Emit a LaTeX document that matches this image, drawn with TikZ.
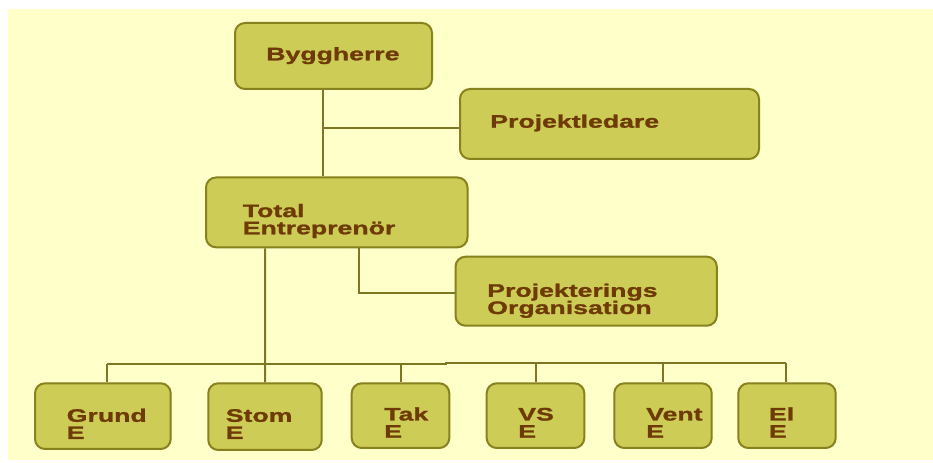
\documentclass[tikz,border=0pt]{standalone}
\usepackage{fontspec}
\newfontfamily\boxfont{Liberation Sans}[FakeStretch=1.47,FakeBold=1.2]
\usetikzlibrary{fit}
\definecolor{bgyellow}{RGB}{255,255,202}
\definecolor{boxfill}{RGB}{204,204,86}
\definecolor{boxedge}{RGB}{135,130,30}
\definecolor{linecol}{RGB}{125,118,35}
\definecolor{txtcol}{RGB}{110,58,5}
\tikzset{
  box/.style={draw=boxedge, fill=boxfill, line width=1.5pt, rounded corners=7.5pt, inner sep=0pt, rectangle},
  lbl/.style={anchor=base west, inner sep=0pt, align=left, text=txtcol,
    font={\boxfont\bfseries\fontsize{13.6}{12.9}\selectfont\lineskiplimit=-20pt}},
  conn/.style={draw=linecol, line width=1.5pt}
}
\begin{document}
\begin{tikzpicture}[x=0.75pt,y=-0.75pt]
\useasboundingbox (0,0) rectangle (933,463);
\fill[white] (0,0) rectangle (933,463);
\fill[bgyellow] (8,9) rectangle (933,460);
% boxes
\node[box, fit={(235,23) (432,89)}] (bygg) {};
\node[box, fit={(460,89) (759,159)}] (pl) {};
\node[box, fit={(206,177.5) (467.5,247.3)}] (te) {};
\node[box, fit={(455.5,256.7) (716.8,325.7)}] (po) {};
\node[box, fit={(35,383.3) (170.7,449)}] (grund) {};
\node[box, fit={(208.3,383.3) (321.7,450)}] (stom) {};
\node[box, fit={(351.7,383.3) (449.3,448)}] (tak) {};
\node[box, fit={(486.7,383.3) (584.3,448)}] (vs) {};
\node[box, fit={(614.3,383.3) (711.7,448)}] (vent) {};
\node[box, fit={(738.3,383.3) (835.7,448)}] (el) {};
% labels (base anchor = baseline of last line)
\node[lbl] (tbygg) at (266,60.3) {Byggherre};
\node[lbl] (tpl) at (490,127.7) {Projektledare};
\node[lbl] (tte) at (242.5,234.3) {Total\\Entreprenör};
\node[lbl] (tpo) at (487,314) {Projekterings\\Organisation};
\node[lbl] (tgrund) at (66.5,439) {Grund\\E};
\node[lbl] (tstom) at (225.5,439) {Stom\\E};
\node[lbl] (ttak) at (384,437.7) {Tak\\E};
\node[lbl] (tvs) at (518,437.7) {VS\\E};
\node[lbl] (tvent) at (646,437.7) {Vent\\E};
\node[lbl] (tel) at (768.7,437.7) {El\\E};
% connector points
\coordinate (a1) at (323.3,127.7);
\coordinate (b1) at (359,292.7);
\coordinate (c1) at (265,364);
\coordinate (busL) at (107.3,364);
\coordinate (busM) at (445.7,364);
\coordinate (busM2) at (445.7,362.7);
\coordinate (busR) at (785.7,362.7);
% connectors
\draw[conn] (bygg.south -| a1) -- (te.north -| a1);
\draw[conn] (a1) -- (pl.west |- a1);
\draw[conn] (te.south -| b1) |- (po.west |- b1);
\draw[conn] (te.south -| c1) -- (stom.north);
\draw[conn] (busL) -- (busM) -- (busM2) -- (busR);
\draw[conn] (busL) -- (grund.north -| busL);
\draw[conn] (tak.north |- busL) -- (tak.north);
\draw[conn] (vs.north |- busR) -- (vs.north);
\draw[conn] (vent.north |- busR) -- (vent.north);
\draw[conn] (busR) -- (el.north -| busR);
\end{tikzpicture}
\end{document}
